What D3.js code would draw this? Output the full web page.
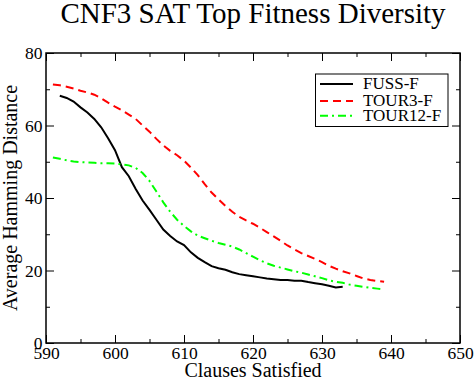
<!DOCTYPE html>
<html>
<head>
<meta charset="utf-8">
<script src="https://cdn.jsdelivr.net/npm/d3@7"></script>
<style>
  body { margin: 0; background: #fff; }
  text { font-family: "Liberation Serif", "Times New Roman", serif; fill: #000; }
</style>
</head>
<body>
<svg id="chart" width="476" height="381"></svg>
<script>
// clauses satisfied (x) for each series
const fussX = d3.range(592, 634);
const fussY = [68.2, 67.6, 66.6, 65.0, 63.6, 61.8, 59.5, 56.5, 53.2, 48.5,
  46.0, 42.5, 39.3, 36.7, 34.0, 31.3, 29.5, 28.0, 27.0, 25.0,
  23.5, 22.3, 21.2, 20.6, 20.2, 19.5, 19.0, 18.7, 18.4, 18.1,
  17.8, 17.6, 17.4, 17.4, 17.2, 17.2, 16.8, 16.5, 16.2, 15.8,
  15.3, 15.5];

const tour3X = d3.range(591, 640);
const tour3Y = [71.3, 71.1, 70.7, 70.2, 69.6, 69.1, 68.5, 67.5, 66.3, 65.2,
  64.2, 63.0, 61.8, 60.0, 58.3, 56.3, 54.5, 53.0, 51.8, 50.3,
  48.4, 46.3, 43.8, 41.5, 39.6, 37.8, 36.2, 34.8, 33.8, 32.9,
  31.8, 30.6, 29.4, 28.2, 26.9, 25.8, 24.8, 24.0, 23.2, 22.3,
  21.3, 20.5, 19.8, 19.2, 18.5, 17.8, 17.4, 17.1, 16.9];

const tour12X = d3.range(591, 640);
const tour12Y = [51.2, 50.8, 50.4, 50.1, 49.9, 49.8, 49.7, 49.6, 49.6, 49.5,
  49.3, 49.0, 48.3, 46.9, 44.7, 41.8, 38.8, 36.2, 34.0, 32.3,
  30.8, 29.6, 28.9, 28.2, 27.6, 27.1, 26.6, 25.8, 24.8, 23.8,
  22.8, 22.0, 21.3, 20.8, 20.3, 19.8, 19.4, 18.9, 18.4, 17.9,
  17.3, 16.9, 16.6, 16.1, 15.8, 15.5, 15.2, 15.0, 14.8];

const seriesNames = ["FUSS-F", "TOUR3-F", "TOUR12-F"];
const xTicks = [590, 600, 610, 620, 630, 640, 650];
const yTicks = [0, 20, 40, 60, 80];

const svg = d3.select("#chart");
const pLeft = 46, pRight = 460, pTop = 53, pBottom = 343;
const serif = '"Liberation Serif", "Times New Roman", serif';

const x = d3.scaleLinear().domain([590, 650]).range([pLeft, pRight]);
const y = d3.scaleLinear().domain([0, 80]).range([pBottom, pTop]);

// title
svg.append("text")
  .attr("x", 253).attr("y", 23)
  .attr("text-anchor", "middle")
  .style("font-size", "29px")
  .text("CNF3 SAT Top Fitness Diversity");

// axes, ticks point inward, mirrored on top/right
const minorX = d3.range(595, 650, 10);
const minorY = d3.range(10, 80, 20);

function axisGroup(axis, tr) {
  const g = svg.append("g").attr("transform", tr).call(axis);
  g.select(".domain").remove();
  g.attr("font-family", serif);
  g.selectAll("line").attr("stroke", "#000").attr("stroke-width", 1);
  return g;
}

// bottom
const gb = axisGroup(d3.axisBottom(x).tickValues(xTicks).tickSize(-8).tickPadding(4), `translate(0,${pBottom})`);
gb.selectAll("text").style("font-size", "17.5px").style("font-family", serif);
axisGroup(d3.axisBottom(x).tickValues(minorX).tickSize(-4).tickFormat(""), `translate(0,${pBottom})`);
// top
axisGroup(d3.axisTop(x).tickValues(xTicks).tickSize(-8).tickFormat(""), `translate(0,${pTop})`);
axisGroup(d3.axisTop(x).tickValues(minorX).tickSize(-4).tickFormat(""), `translate(0,${pTop})`);
// left
const gl = axisGroup(d3.axisLeft(y).tickValues(yTicks).tickSize(-8).tickPadding(3.5), `translate(${pLeft},0)`);
gl.selectAll("text").style("font-size", "17.5px").style("font-family", serif);
axisGroup(d3.axisLeft(y).tickValues(minorY).tickSize(-4).tickFormat(""), `translate(${pLeft},0)`);
// right
axisGroup(d3.axisRight(y).tickValues(yTicks).tickSize(-8).tickFormat(""), `translate(${pRight},0)`);
axisGroup(d3.axisRight(y).tickValues(minorY).tickSize(-4).tickFormat(""), `translate(${pRight},0)`);

svg.selectAll("g.tick text").attr("fill", "#000");

// frame
svg.append("rect")
  .attr("x", pLeft).attr("y", pTop)
  .attr("width", pRight - pLeft).attr("height", pBottom - pTop)
  .attr("fill", "none").attr("stroke", "#000").attr("stroke-width", 1.5);

// axis labels
svg.append("text")
  .attr("x", 253).attr("y", 377)
  .attr("text-anchor", "middle")
  .style("font-size", "20px")
  .text("Clauses Satisfied");

svg.append("text")
  .attr("transform", `translate(17,198) rotate(-90)`)
  .attr("text-anchor", "middle")
  .style("font-size", "20px")
  .text("Average Hamming Distance");

// lines
const styles = [
  { color: "#000", dash: null },
  { color: "#ff0000", dash: "8,5" },
  { color: "#00ff00", dash: "8,4,2,4" }
];
const series = [
  fussX.map((d, i) => [d, fussY[i]]),
  tour3X.map((d, i) => [d, tour3Y[i]]),
  tour12X.map((d, i) => [d, tour12Y[i]])
];

const line = d3.line().x(d => x(d[0])).y(d => y(d[1]));

series.forEach((s, i) => {
  svg.append("path")
    .datum(s)
    .attr("d", line)
    .attr("fill", "none")
    .attr("stroke", styles[i].color)
    .attr("stroke-width", 2)
    .attr("stroke-dasharray", styles[i].dash);
});

// legend
const lg = svg.append("g");
lg.append("rect")
  .attr("x", 315.5).attr("y", 74)
  .attr("width", 132.5).attr("height", 52.5)
  .attr("fill", "#fff").attr("stroke", "#000").attr("stroke-width", 1);

const legendY = [84, 101, 115.7];
seriesNames.forEach((name, i) => {
  lg.append("line")
    .attr("x1", 320).attr("x2", 353)
    .attr("y1", legendY[i]).attr("y2", legendY[i])
    .attr("stroke", styles[i].color)
    .attr("stroke-width", 2)
    .attr("stroke-dasharray", styles[i].dash);
  lg.append("text")
    .attr("x", 363).attr("y", legendY[i] + 5.3)
    .style("font-size", "17px")
    .text(name);
});
</script>
</body>
</html>
